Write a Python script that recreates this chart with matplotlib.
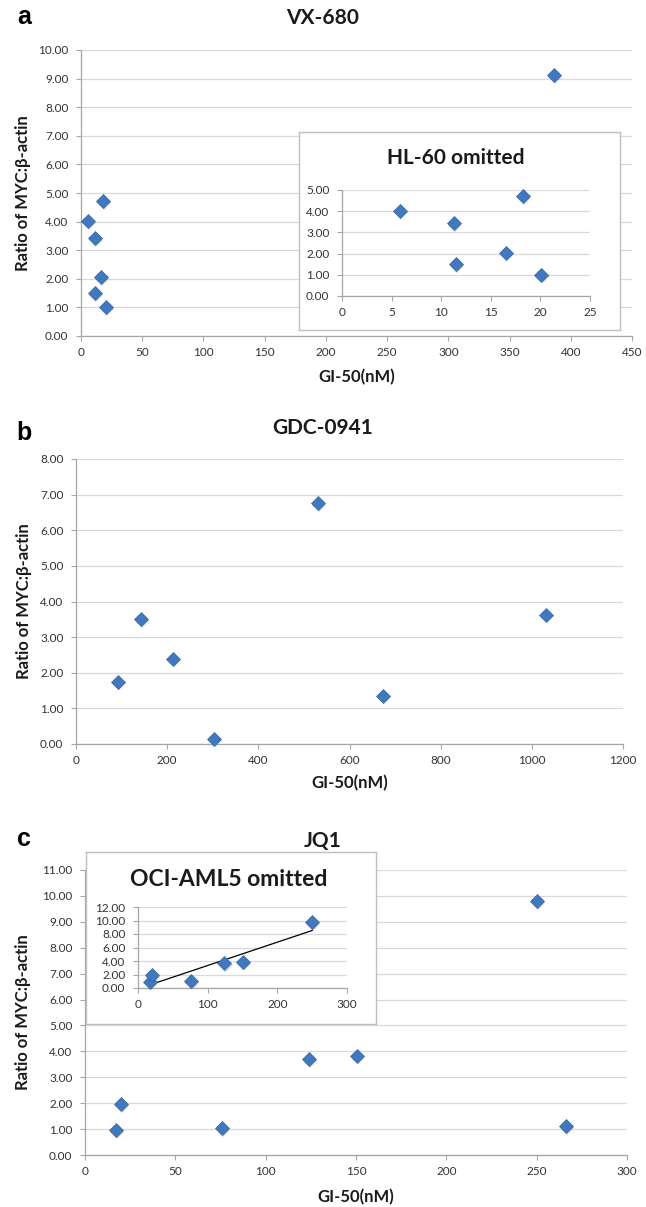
import matplotlib
matplotlib.use('Agg')
import matplotlib.pyplot as plt
import numpy as np
from matplotlib.ticker import MultipleLocator, FormatStrFormatter
import matplotlib.transforms as mtransforms

W, H = 646, 1207

# ---------------- data ----------------
# Panel a: VX-680 (last point = HL-60, omitted in inset)
vx_gi50 = [5.8, 11.3, 11.5, 16.5, 18.2, 20.1, 386.0]
vx_ratio = [4.03, 3.43, 1.49, 2.05, 4.72, 1.01, 9.13]
vx_omit = 6

# Panel b: GDC-0941
gdc_gi50 = [92, 142, 213, 303, 531, 673, 1031]
gdc_ratio = [1.75, 3.51, 2.40, 0.15, 6.76, 1.36, 3.63]

# Panel c: JQ1 (last point = OCI-AML5, omitted in inset)
jq1_gi50 = [17.3, 19.8, 75.6, 124.0, 150.7, 250.0, 266.4]
jq1_ratio = [0.95, 1.97, 1.03, 3.71, 3.84, 9.79, 1.13]
jq1_omit = 6

panel_titles = ['VX-680', 'GDC-0941', 'JQ1']
panel_letters = ['a', 'b', 'c']
inset_titles = ['HL-60 omitted', 'OCI-AML5 omitted']
xlabel = 'GI-50(nM)'
ylabel = 'Ratio of MYC:β-actin'

# ---------------- style ----------------
FONT = ['Lato', 'DejaVu Sans']
plt.rcParams['font.family'] = FONT
BLUE = '#4178BE'
GRID = '#d9d9d9'
AX = '#a6a6a6'
TXT = '#333333'

fig = plt.figure(figsize=(W / 100, H / 100), dpi=100)


def rect(l, r, t, b):
    return [l / W, 1 - b / H, (r - l) / W, (b - t) / H]


def style(ax, xmax, xstep, ymax, ystep, fs=8.5, xpad=4.0, ypad=5.5):
    ax.set_xlim(0, xmax)
    ax.set_ylim(0, ymax)
    ax.xaxis.set_major_locator(MultipleLocator(xstep))
    ax.yaxis.set_major_locator(MultipleLocator(ystep))
    ax.yaxis.set_major_formatter(FormatStrFormatter('%.2f'))
    ax.grid(axis='y', color=GRID, lw=0.9)
    ax.set_axisbelow(True)
    for s in ['top', 'right']:
        ax.spines[s].set_visible(False)
    for s in ['left', 'bottom']:
        ax.spines[s].set_color(AX)
        ax.spines[s].set_linewidth(0.9)
    ax.tick_params(direction='out', length=3.6, width=0.8, color=AX,
                   labelsize=fs, labelcolor=TXT)
    ax.tick_params(axis='x', pad=xpad)
    ax.tick_params(axis='y', pad=ypad)
    ax.patch.set_alpha(0)


def points(ax, x, y, ms=6.8):
    sh = mtransforms.offset_copy(ax.transData, fig=fig, x=1.2, y=-1.8, units='dots')
    ax.plot(x, y, 'D', ms=ms + 0.6, color='#8a8a8a', alpha=0.35, mew=0,
            transform=sh, zorder=2.5, clip_on=False)
    ax.plot(x, y, 'D', ms=ms, color=BLUE, mec='#3568aa', mew=0.5,
            zorder=3, clip_on=False)


def labels(ax, xl_y, yl_x):
    bb = ax.get_position()
    cx = (bb.x0 + bb.x1) / 2
    cy = (bb.y0 + bb.y1) / 2
    fig.text(cx, 1 - xl_y / H, xlabel, ha='center', va='center',
             fontsize=12, fontweight='bold', color='#1a1a1a')
    fig.text(yl_x / W, cy, ylabel, ha='center', va='center', rotation=90,
             fontsize=12, fontweight='bold', color='#1a1a1a')


def header(letter, title, y_letter, y_title):
    fig.text(24 / W, 1 - y_letter / H, letter, ha='center', va='center',
             fontsize=18, fontweight='bold', family=['Liberation Sans', 'DejaVu Sans'],
             color='black')
    fig.text(0.5, 1 - y_title / H, title, ha='center', va='center',
             fontsize=15, fontweight='bold', color='#1a1a1a')


# ---------------- panel a ----------------
axa = fig.add_axes(rect(81, 632, 50, 336))
style(axa, 450, 50, 10, 1)
points(axa, vx_gi50, vx_ratio)
labels(axa, 377, 23)
header(panel_letters[0], panel_titles[0], 17, 18)

boxa = fig.add_axes(rect(299, 620, 132, 330))
boxa.set_xticks([]); boxa.set_yticks([])
for s in boxa.spines.values():
    s.set_color('#bfbfbf'); s.set_linewidth(1.0)
boxa.set_facecolor('white')

ina = fig.add_axes(rect(342, 590, 190, 296))
style(ina, 25, 5, 5, 1)
ina_x = [v for i, v in enumerate(vx_gi50) if i != vx_omit]
ina_y = [v for i, v in enumerate(vx_ratio) if i != vx_omit]
points(ina, ina_x, ina_y)
fig.text(456 / W, 1 - 158 / H, inset_titles[0], ha='center', va='center',
         fontsize=15, fontweight='bold', color='#1a1a1a')

# ---------------- panel b ----------------
axb = fig.add_axes(rect(76, 623, 459, 744))
style(axb, 1200, 200, 8, 1)
points(axb, gdc_gi50, gdc_ratio)
labels(axb, 783, 24)
header(panel_letters[1], panel_titles[1], 433, 428)

# ---------------- panel c ----------------
axc = fig.add_axes(rect(85, 627, 870, 1155))
style(axc, 300, 50, 11, 1)
points(axc, jq1_gi50, jq1_ratio)
labels(axc, 1197, 23)
header(panel_letters[2], panel_titles[2], 839, 841)

boxc = fig.add_axes(rect(86, 376, 852, 1024))
boxc.set_xticks([]); boxc.set_yticks([])
for s in boxc.spines.values():
    s.set_color('#bfbfbf'); s.set_linewidth(1.0)
boxc.set_facecolor('white')

inc = fig.add_axes(rect(138, 347, 907, 988))
style(inc, 300, 100, 12, 2)
inc_x = np.array([v for i, v in enumerate(jq1_gi50) if i != jq1_omit])
inc_y = np.array([v for i, v in enumerate(jq1_ratio) if i != jq1_omit])
points(inc, inc_x, inc_y)
slope, icpt = np.polyfit(inc_x, inc_y, 1)
xx = np.array([inc_x.min(), inc_x.max()])
inc.plot(xx, slope * xx + icpt, color='black', lw=0.9, zorder=2.8)
fig.text(229 / W, 1 - 880 / H, inset_titles[1], ha='center', va='center',
         fontsize=16.5, fontweight='bold', color='#1a1a1a')

fig.savefig('out.png', dpi=100, facecolor='white')
